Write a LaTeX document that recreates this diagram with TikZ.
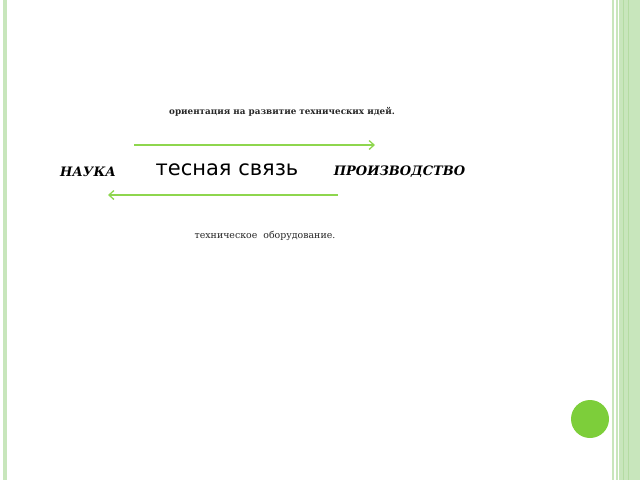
\documentclass[tikz,border=0pt]{standalone}
\usepackage{fontspec}
\setmainfont{DejaVu Serif}
\newfontfamily\SansF{DejaVu Sans}
\usetikzlibrary{arrows.meta}
\definecolor{LineG}{HTML}{8ED64E}
\definecolor{DotG}{HTML}{7DCE3A}
\definecolor{StripeG}{HTML}{C8E6BC}
\definecolor{StripeD}{HTML}{B4DCA2}
\definecolor{TextG}{HTML}{262626}

\begin{document}
\begin{tikzpicture}[x=1pt,y=-1pt]
			\tikzstyle{small} = [text=TextG, font=\fontsize{8.8}{10}\selectfont\bfseries, inner sep=0pt]
			\tikzstyle{party} = [font=\fontsize{13}{15}\selectfont\bfseries\itshape, inner sep=0pt]
			\tikzstyle{link} = [font=\SansF\fontsize{21}{23}\selectfont, inner sep=0pt]
			\tikzstyle{line} = [draw,-{Straight Barb[length=5pt,width=9pt]},LineG,line width=1.3pt]

			\useasboundingbox (0,0) rectangle (640,480);
			% page frame
			\fill[StripeG] (3,0) rectangle (7,480);
			\fill[StripeG] (612,0) rectangle (614,480);
			\fill[StripeG] (616,0) rectangle (617.5,480);
			\fill[StripeG] (619,0) rectangle (640,480);
			\fill[StripeD] (622.5,0) rectangle (623.5,480);
			\fill[StripeD] (627.5,0) rectangle (628.5,480);
			\fill[DotG] (590,419) circle (19);

			\node(Orient)[small] at (282,112) {ориентация на развитие технических идей.};
			\node(Nauka)[party] at (88,172) {НАУКА};
			\node(Svyaz)[link] at (227,170) {тесная связь};
			\node(Proizv)[party] at (399.5,172) {ПРОИЗВОДСТВО};
			\node(Oborud)[small,font=\fontsize{9.4}{11}\selectfont] at (265,236) {техническое\ \ оборудование.};

			\coordinate(TopL) at (134,145);
			\coordinate(TopR) at (375,145);
			\coordinate(BotL) at (108,195);
			\coordinate(BotR) at (338,195);
			\draw[line] (TopL) -- (TopR);
			\draw[line] (BotR) -- (BotL);
		\end{tikzpicture}
\end{document}
